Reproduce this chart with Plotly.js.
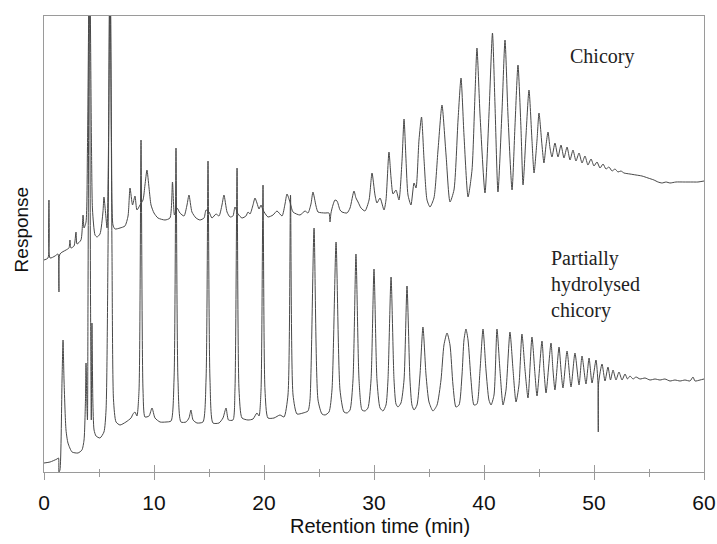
<!DOCTYPE html>
<html>
<head>
<meta charset="utf-8">
<script src="https://cdn.plot.ly/plotly-3.0.1.min.js"></script>
<style>html,body{margin:0;padding:0;background:#fff;}#chart{width:717px;height:544px;}</style>
</head>
<body>
<div id="chart"></div>
<script>
// Retention time (min) and detector response (arbitrary units)
var chicoryTime = [0.00,0.36,0.45,0.55,1.00,1.27,1.36,1.45,2.00,2.27,2.36,2.45,2.73,2.91,3.00,3.36,3.55,3.64,3.82,3.95,4.14,4.32,4.41,4.64,4.82,5.09,5.36,5.45,5.59,5.73,5.86,6.00,6.14,6.27,6.45,6.91,7.36,7.64,7.82,8.05,8.27,8.45,8.73,9.00,9.18,9.36,9.55,9.73,10.00,10.36,11.00,11.45,11.68,11.86,12.09,12.36,12.73,13.00,13.18,13.45,13.82,14.18,14.55,14.73,15.00,15.27,15.64,15.91,16.18,16.36,16.64,16.91,17.18,17.36,17.64,18.00,18.36,18.55,18.73,19.00,19.18,19.36,19.55,19.73,19.91,20.36,20.82,21.18,21.64,21.91,22.09,22.36,22.64,23.27,23.73,24.00,24.27,24.45,24.73,24.91,25.55,25.91,26.00,26.09,26.27,26.45,26.64,26.91,27.09,27.55,27.82,28.18,28.36,28.55,28.82,29.18,29.55,29.82,30.09,30.27,30.55,30.91,31.09,31.36,31.55,31.73,32.00,32.27,32.55,32.73,32.91,33.09,33.36,33.64,33.82,34.09,34.32,34.55,34.82,35.09,35.45,35.82,36.18,36.55,36.91,37.27,37.64,37.91,38.18,38.55,38.91,39.18,39.36,39.64,40.09,40.45,40.77,41.00,41.27,41.64,41.91,42.18,42.55,42.82,43.09,43.36,43.55,43.82,44.09,44.36,44.55,44.82,45.00,45.27,45.45,45.64,45.82,46.00,46.18,46.45,46.73,47.00,47.27,47.55,47.82,48.09,48.36,48.64,48.91,49.18,49.45,49.73,50.00,50.27,50.55,50.82,51.09,51.36,51.64,51.91,52.18,52.45,52.73,53.27,53.82,54.36,54.91,55.45,55.82,56.18,56.55,56.91,57.45,58.18,58.91,59.45,60.00];
var chicoryResp = [212,214,272,214,216,218,180,218,222,224,232,224,226,240,228,232,257,244,250,322,532,322,262,237,235,238,260,275,260,244,322,532,322,247,243,244,246,256,284,267,276,262,267,272,287,302,284,267,259,254,252,254,290,257,264,259,256,267,277,260,254,252,254,262,260,254,258,256,267,277,260,255,256,265,258,254,256,260,258,267,274,269,263,267,262,255,257,261,256,268,278,270,260,257,261,259,268,280,266,260,259,259,250,259,267,272,271,262,260,259,264,281,274,270,264,261,272,299,277,269,274,262,272,320,294,278,282,272,312,353,312,277,267,289,284,332,355,312,272,265,274,322,367,317,270,282,352,394,337,275,302,377,424,357,279,357,439,367,280,362,432,357,282,347,407,344,287,337,382,332,299,332,359,327,309,327,340,324,315,329,315,327,314,325,312,322,311,319,309,316,307,313,306,310,304,308,303,305,301,303,300,301,299,298,297,296,294,292,290,289,290,289,290,290,290,290,291];

var hydrolysedTime = [0.00,0.55,1.18,1.32,1.36,1.45,1.64,1.73,1.82,2.00,2.18,2.55,3.09,3.45,3.64,3.77,3.82,3.89,3.95,4.00,4.12,4.23,4.30,4.36,4.44,4.55,4.73,5.09,5.45,5.64,5.82,6.00,6.18,6.32,6.55,6.91,7.45,7.91,8.09,8.27,8.45,8.64,8.82,9.00,9.18,9.55,9.82,10.09,10.55,11.09,11.55,11.82,12.00,12.18,12.45,12.91,13.18,13.36,13.55,13.91,14.45,14.73,14.91,15.09,15.36,15.91,16.27,16.55,16.77,17.18,17.36,17.55,17.73,18.00,18.55,19.00,19.36,19.55,19.73,19.91,20.09,20.36,20.91,21.45,21.82,22.18,22.41,22.64,23.00,23.55,24.00,24.18,24.55,24.91,25.27,25.55,25.91,26.18,26.55,26.91,27.27,27.55,27.82,28.09,28.36,28.64,28.91,29.18,29.45,29.73,30.00,30.27,30.55,30.82,31.09,31.27,31.55,31.82,32.00,32.18,32.45,32.73,33.00,33.27,33.45,33.64,33.91,34.18,34.45,34.73,35.00,35.36,35.73,36.09,36.36,36.64,36.91,37.18,37.45,37.73,38.00,38.18,38.36,38.55,38.82,39.09,39.36,39.64,39.91,40.18,40.45,40.64,40.91,41.18,41.45,41.73,42.00,42.36,42.64,42.91,43.18,43.45,43.73,44.00,44.36,44.64,44.82,45.27,45.45,45.64,46.09,46.27,46.45,46.82,47.00,47.18,47.55,47.91,48.27,48.64,48.91,49.27,49.55,49.82,50.18,50.36,50.39,50.42,50.73,51.00,51.27,51.50,51.73,52.00,52.27,52.55,52.82,53.05,53.27,53.55,53.82,54.18,54.64,55.09,55.55,56.00,56.45,56.91,57.36,57.82,58.27,58.73,59.00,59.18,59.64,60.00];
var hydrolysedResp = [9,10,13,14,0,2,92,132,92,42,29,20,19,22,32,72,109,72,52,172,512,172,52,149,72,42,36,34,40,62,222,532,222,72,50,47,50,54,58,60,56,82,332,82,55,56,64,54,50,50,51,92,324,92,50,50,54,62,52,49,50,92,311,92,49,49,54,64,52,52,82,304,82,54,52,53,59,56,82,287,82,54,54,57,55,77,277,77,58,59,61,72,244,72,58,57,60,82,230,82,60,59,62,92,218,92,62,61,64,92,203,92,64,61,67,92,195,92,68,65,69,92,186,92,67,62,67,97,145,97,70,61,67,92,127,139,127,87,65,67,97,132,143,132,92,67,68,102,143,102,72,67,77,143,102,67,82,140,102,70,87,138,102,74,135,97,76,131,102,79,129,102,82,125,102,84,121,85,119,87,116,88,114,89,112,89,40,89,108,91,105,92,102,92,100,92,98,93,96,93,95,93,94,92,93,92,93,91,92,91,92,91,95,91,92,93];

var xTickVals = [0,10,20,30,40,50,60];
var labelChicory = 'Chicory';
var labelHydrolysed = 'Partially<br>hydrolysed<br>chicory';

var lineStyle = {color:'#484848', width:1, shape:'spline', smoothing:0.6};
var axisGrey = '#9a9a9a';

var traces = [
  {x: chicoryTime, y: chicoryResp, type:'scatter', mode:'lines', line: lineStyle, hoverinfo:'skip', name:'Chicory'},
  {x: hydrolysedTime, y: hydrolysedResp, type:'scatter', mode:'lines', line: lineStyle, hoverinfo:'skip', name:'Partially hydrolysed chicory'},
  {x: [], y: [], xaxis:'x2', type:'scatter', mode:'lines', showlegend:false, hoverinfo:'skip'}
];

var layout = {
  width: 717, height: 544,
  margin: {l:44, r:13, t:16, b:72, pad:0},
  paper_bgcolor:'#fff', plot_bgcolor:'#fff',
  showlegend:false,
  font: {family:'Arial, "Liberation Sans", sans-serif', color:'#111'},
  xaxis: {
    range:[0,60], tickvals: xTickVals, ticks:'outside', ticklen:7, tickwidth:1, tickcolor:axisGrey,
    showline:true, linecolor:axisGrey, linewidth:1, mirror:true,
    showgrid:false, zeroline:false, ticklabelstandoff:5,
    tickfont:{size:21, color:'#111'},
    minor:{dtick:5, tick0:0, ticks:'outside', ticklen:4, tickcolor:axisGrey, showgrid:false}
  },
  xaxis2: {
    range:[0,60], overlaying:'x', anchor:'y', side:'bottom', tickvals: xTickVals, ticks:'inside', ticklen:7, tickwidth:1, tickcolor:axisGrey,
    showticklabels:false, showline:false, showgrid:false, zeroline:false,
    minor:{dtick:5, tick0:0, ticks:'inside', ticklen:3, tickcolor:axisGrey, showgrid:false}
  },
  yaxis: {
    range:[0,456], showticklabels:false, ticks:'', showline:true, linecolor:axisGrey, linewidth:1, mirror:true,
    showgrid:false, zeroline:false
  },
  annotations: [
    {text:'Retention time (min)', xref:'paper', yref:'paper', x:0.5, y:0, xshift:6, yshift:-54, xanchor:'center', yanchor:'middle', showarrow:false, font:{size:20, color:'#111', family:'Arial, "Liberation Sans", sans-serif'}},
    {text:'Response', xref:'paper', yref:'paper', x:0, y:0.532, xshift:-23, xanchor:'center', yanchor:'middle', textangle:-90, showarrow:false, font:{size:19, color:'#111', family:'Arial, "Liberation Sans", sans-serif'}},
    {text:labelChicory, xref:'x', yref:'y', x:47.6, y:416, xanchor:'left', yanchor:'middle', showarrow:false, font:{size:20, color:'#222', family:'"Liberation Serif", "Times New Roman", serif'}},
    {text:labelHydrolysed, xref:'x', yref:'y', x:45.9, y:188, xanchor:'left', yanchor:'middle', align:'left', showarrow:false, font:{size:20, color:'#222', family:'"Liberation Serif", "Times New Roman", serif'}}
  ]
};

Plotly.newPlot('chart', traces, layout, {staticPlot:true, displayModeBar:false});
</script>
</body>
</html>
